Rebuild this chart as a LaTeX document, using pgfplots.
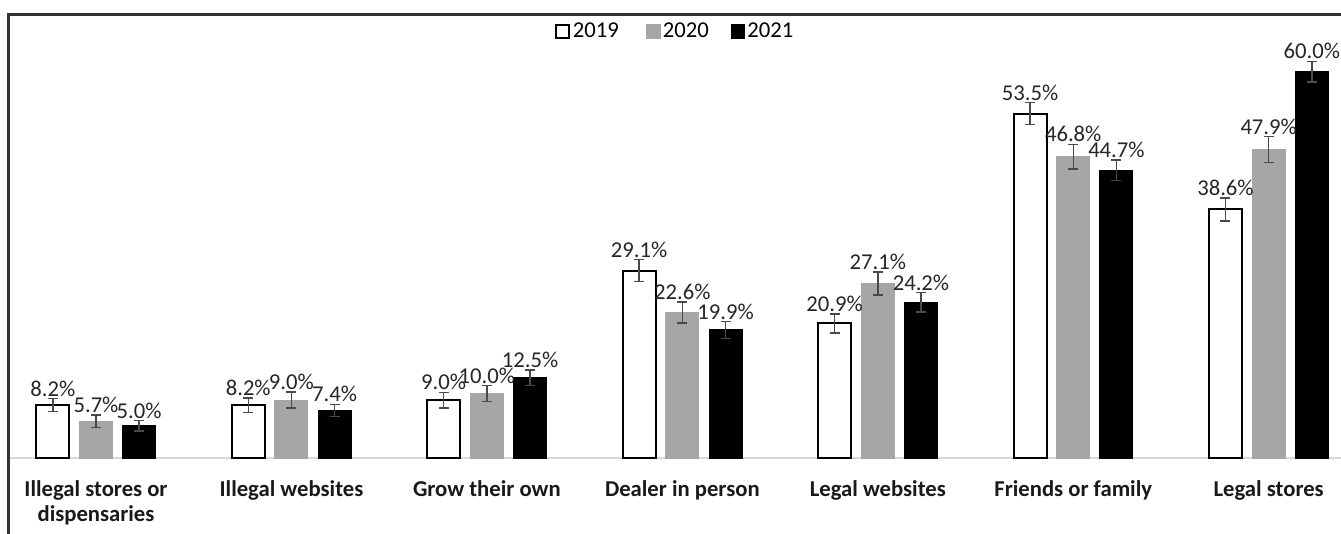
\documentclass[border=0pt]{standalone}
\usepackage{fontspec}
\setmainfont{Carlito}
\usepackage{pgfplots}
\usepackage{pgfplotstable}
\pgfplotsset{compat=1.18}
\definecolor{barGray}{HTML}{A6A6A6}
\definecolor{errGray}{HTML}{4A4A4A}
\definecolor{baseGray}{HTML}{D9D9D9}
\definecolor{frameGray}{HTML}{333333}

\pgfplotstableread{
x y e lab
0 8.2 1.0 8.2
1 8.2 1.1 8.2
2 9.0 1.2 9.0
3 29.1 1.7 29.1
4 20.9 1.5 20.9
5 53.5 1.7 53.5
6 38.6 1.8 38.6
}\tA
\pgfplotstableread{
x y e lab
0 5.7 1.0 5.7
1 9.0 1.25 9.0
2 10.0 1.25 10.0
3 22.6 1.6 22.6
4 27.1 1.8 27.1
5 46.8 1.9 46.8
6 47.9 2.0 47.9
}\tB
\pgfplotstableread{
x y e lab
0 5.0 0.8 5.0
1 7.4 0.95 7.4
2 12.5 1.2 12.5
3 19.9 1.3 19.9
4 24.2 1.5 24.2
5 44.7 1.6 44.7
6 60.0 1.6 60.0
}\tC

\begin{document}
\begin{tikzpicture}
\useasboundingbox (0,0) rectangle (1005.75pt,399.75pt);
\begin{axis}[
  at={(7.5pt,56.25pt)}, anchor=south west,
  scale only axis,
  width=998.25pt, height=332.25pt,
  xmin=-0.44, xmax=6.37,
  ymin=0, ymax=68.8,
  ybar, bar width=24.75pt,
  clip=false,
  axis y line=none,
  axis x line*=bottom,
  x axis line style={draw=baseGray, line width=1.4pt, -},
  xtick={0,1,2,3,4,5,6},
  xticklabels={{Illegal stores or\\dispensaries},{Illegal websites},{Grow their own},{Dealer in person},{Legal websites},{Friends or family},{Legal stores}},
  major tick length=0pt,
  xticklabel style={font=\bfseries\fontsize{17}{18.3}\selectfont, align=center, yshift=-13.5pt, text=black!90},
  legend style={at={(0.5,1.0)}, anchor=north, draw=none, fill=none,
    legend columns=-1, font=\fontsize{17}{18}\selectfont,
    inner sep=1pt, yshift=-3pt},
  legend image code/.code={\draw[#1] (0pt,-5pt) rectangle (10pt,5pt);},
  error bars/y dir=both, error bars/y explicit,
  error bars/error bar style={color=errGray, line width=1.1pt},
  error bars/error mark options={rotate=90, mark size=3.75pt, line width=1.1pt, color=errGray},
  every node near coord/.style={font=\fontsize{17}{19}\selectfont, text=black!85, anchor=south, inner sep=1.5pt},
]
\addplot[bar shift=-32.4pt, fill=white, draw=black, line width=1.5pt] table[x=x, y=y, y error=e] {\tA};
\addlegendentry{2019\makebox[19pt]{}}
\addplot[bar shift=0pt, fill=barGray, draw=barGray, line width=0pt] table[x=x, y=y, y error=e] {\tB};
\addlegendentry{2020\makebox[15pt]{}}
\addplot[bar shift=32.4pt, fill=black, draw=black, line width=0pt] table[x=x, y=y, y error=e] {\tC};
\addlegendentry{2021}

\addplot[forget plot, bar shift=0pt, draw=none, fill=none, point meta=explicit symbolic,
  nodes near coords={\pgfplotspointmeta\%},
  every node near coord/.append style={xshift=-32.4pt}] table[x=x, y expr=\thisrow{y}+\thisrow{e}, meta=lab] {\tA};
\addplot[forget plot, bar shift=0pt, draw=none, fill=none, point meta=explicit symbolic,
  nodes near coords={\pgfplotspointmeta\%}] table[x=x, y expr=\thisrow{y}+\thisrow{e}, meta=lab] {\tB};
\addplot[forget plot, bar shift=0pt, draw=none, fill=none, point meta=explicit symbolic,
  nodes near coords={\pgfplotspointmeta\%},
  every node near coord/.append style={xshift=32.4pt}] table[x=x, y expr=\thisrow{y}+\thisrow{e}, meta=lab] {\tC};
\end{axis}
\draw[line width=2.2pt, frameGray] (6.4pt,-5pt) -- (6.4pt,389pt) -- (1010pt,389pt);
\end{tikzpicture}
\end{document}
